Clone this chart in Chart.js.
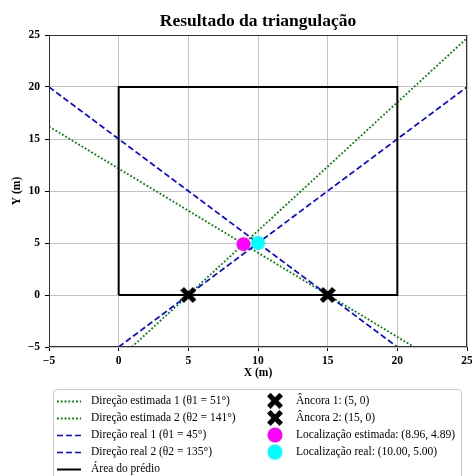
<!DOCTYPE html>
<html><head><meta charset="utf-8">
<script src="https://cdn.jsdelivr.net/npm/chart.js@4"></script>
<style>html,body{margin:0;padding:0;background:#fff}#wrap{width:472px;height:476px;position:relative}</style>
</head><body><div id="wrap"><canvas id="c" width="472" height="476"></canvas></div>
<script>
// ---- data ----
const xTicks = [-5, 0, 5, 10, 15, 20, 25];
const yTicks = [-5, 0, 5, 10, 15, 20, 25];
const est1X = [0.95, 25],  est1Y = [-5, 24.7];
const est2X = [-5, 21.2],  est2Y = [16.2, -5];
const real1X = [0, 25],    real1Y = [-5, 20];
const real2X = [-5, 20],   real2Y = [20, -5];
const buildingX = [0, 20, 20, 0, 0];
const buildingY = [0, 0, 20, 20, 0];
const anchor1 = [5, 0];
const anchor2 = [15, 0];
const estLoc = [8.96, 4.89];
const realLoc = [10.00, 5.00];
const seriesLabels = [
  'Direção estimada 1 (θ1 = 51°)',
  'Direção estimada 2 (θ2 = 141°)',
  'Direção real 1 (θ1 = 45°)',
  'Direção real 2 (θ2 = 135°)',
  'Área do prédio',
  'Âncora 1: (5, 0)',
  'Âncora 2: (15, 0)',
  'Localização estimada: (8.96, 4.89)',
  'Localização real: (10.00, 5.00)'
];

function pts(xs, ys) { return xs.map((x, i) => ({x: x, y: ys[i]})); }

function xMarker(size) {
  const c = document.createElement('canvas');
  c.width = size; c.height = size;
  const g = c.getContext('2d');
  g.strokeStyle = '#000'; g.lineWidth = 5; g.lineCap = 'butt';
  const a = 1.8;
  g.beginPath(); g.moveTo(a, a); g.lineTo(size - a, size - a);
  g.moveTo(size - a, a); g.lineTo(a, size - a); g.stroke();
  return c;
}
const xImg = xMarker(16);

const SERIF = '"Liberation Serif", "DejaVu Serif", serif';
const fmt = v => (v < 0 ? '\u2212' + Math.abs(v) : String(v));

const datasets = [
  {label: seriesLabels[0], data: pts(est1X, est1Y), showLine: true, borderColor: '#008000', borderWidth: 1.8, borderDash: [1.8, 2.0], pointRadius: 0, order: 6},
  {label: seriesLabels[1], data: pts(est2X, est2Y), showLine: true, borderColor: '#008000', borderWidth: 1.8, borderDash: [1.8, 2.0], pointRadius: 0, order: 5},
  {label: seriesLabels[2], data: pts(real1X, real1Y), showLine: true, borderColor: '#0000ff', borderWidth: 1.7, borderDash: [6, 3], pointRadius: 0, order: 4},
  {label: seriesLabels[3], data: pts(real2X, real2Y), showLine: true, borderColor: '#0000ff', borderWidth: 1.7, borderDash: [6, 3], pointRadius: 0, order: 3},
  {label: seriesLabels[4], data: pts(buildingX, buildingY), showLine: true, borderColor: '#000000', borderWidth: 2, pointRadius: 0, order: 2},
  {label: seriesLabels[5], data: [{x: anchor1[0], y: anchor1[1]}], pointStyle: xImg, pointRadius: 8, order: 1},
  {label: seriesLabels[6], data: [{x: anchor2[0], y: anchor2[1]}], pointStyle: xImg, pointRadius: 8, order: 1},
  {label: seriesLabels[7], data: [{x: estLoc[0], y: estLoc[1]}], pointStyle: 'circle', pointRadius: 7, backgroundColor: '#ff00ff', borderColor: '#ff00ff', borderWidth: 0, order: 0.5},
  {label: seriesLabels[8], data: [{x: realLoc[0], y: realLoc[1]}], pointStyle: 'circle', pointRadius: 7, backgroundColor: '#00ffff', borderColor: '#00ffff', borderWidth: 0, order: 0}
];

const framePlugin = {
  id: 'frame',
  afterDatasetsDraw(chart) {
    const {ctx, chartArea: a} = chart;
    ctx.save();
    ctx.strokeStyle = '#333'; ctx.lineWidth = 1;
    ctx.strokeRect(Math.round(a.left) + 0.5, Math.round(a.top) + 0.5, Math.round(a.right - a.left) - 1, Math.round(a.bottom - a.top) - 1);
    ctx.restore();
  }
};

const legendPlugin = {
  id: 'customLegend',
  afterDraw(chart) {
    const ctx = chart.ctx;
    const ds = chart.data.datasets;
    ctx.save();
    ctx.beginPath();
    ctx.roundRect(53.5, 389.5, 408, 130, 3);
    ctx.fillStyle = 'rgba(255,255,255,0.8)'; ctx.fill();
    ctx.strokeStyle = '#cccccc'; ctx.lineWidth = 1; ctx.stroke();
    ctx.font = '11.5px ' + SERIF; ctx.textBaseline = 'middle'; ctx.fillStyle = '#000';
    const rowH = 17.1, y0 = 400.8;
    for (let i = 0; i < 5; i++) {
      const d = ds[i], y = y0 + i * rowH;
      ctx.save();
      ctx.strokeStyle = d.borderColor; ctx.lineWidth = d.borderWidth;
      ctx.setLineDash(d.borderDash || []);
      ctx.beginPath(); ctx.moveTo(57, Math.round(y) + 0.5); ctx.lineTo(81, Math.round(y) + 0.5); ctx.stroke();
      ctx.restore();
      ctx.fillStyle = '#000';
      ctx.fillText(d.label, 91, y);
    }
    for (let i = 5; i < 9; i++) {
      const d = ds[i], y = y0 + (i - 5) * rowH;
      if (d.pointStyle === 'circle') {
        ctx.beginPath(); ctx.arc(275, y, 7.5, 0, Math.PI * 2);
        ctx.fillStyle = d.backgroundColor; ctx.fill();
      } else {
        ctx.drawImage(d.pointStyle, 275 - 8, y - 8);
      }
      ctx.fillStyle = '#000';
      ctx.fillText(d.label, 296, y);
    }
    ctx.restore();
  }
};

new Chart(document.getElementById('c'), {
  type: 'scatter',
  data: {datasets: datasets},
  options: {
    responsive: false,
    animation: false,
    devicePixelRatio: 1,
    layout: {autoPadding: false, padding: {top: 0, left: 0, right: 5, bottom: 96}},
    plugins: {
      legend: {display: false},
      tooltip: {enabled: false},
      title: {
        display: true, text: 'Resultado da triangulação', fullSize: false,
        color: '#000', font: {family: SERIF, size: 17.5, weight: 'bold', lineHeight: 1.2},
        padding: {top: 11, bottom: 3}
      }
    },
    scales: {
      x: {
        type: 'linear', min: -5, max: 25,
        afterBuildTicks: s => { s.ticks = xTicks.map(v => ({value: v})); },
        afterFit: s => { s.height = 33; s.paddingLeft = 0; s.paddingRight = 0; },
        ticks: {callback: v => fmt(v), color: '#000', padding: 3, maxRotation: 0, autoSkip: false,
                font: {family: SERIF, size: 11.5, weight: 'bold'}},
        grid: {color: '#c4c4c4', lineWidth: 1, drawTicks: true, tickLength: 4, tickColor: '#000'},
        border: {display: false},
        title: {display: true, text: 'X (m)', color: '#000', padding: {top: 0, bottom: 0},
                font: {family: SERIF, size: 11.5, weight: 'bold', lineHeight: 1.2}}
      },
      y: {
        type: 'linear', min: -5, max: 25,
        afterBuildTicks: s => { s.ticks = yTicks.map(v => ({value: v})); },
        afterFit: s => { s.width = 49; s.paddingTop = 0; s.paddingBottom = 0; },
        ticks: {callback: v => fmt(v), color: '#000', padding: 5, autoSkip: false,
                font: {family: SERIF, size: 11.5, weight: 'bold'}},
        grid: {color: '#c4c4c4', lineWidth: 1, drawTicks: true, tickLength: 4, tickColor: '#000'},
        border: {display: false},
        title: {display: true, text: 'Y (m)', color: '#000', padding: {top: 10.5, bottom: 0},
                font: {family: SERIF, size: 11.5, weight: 'bold', lineHeight: 1.2}}
      }
    }
  },
  plugins: [framePlugin, legendPlugin]
});
</script>
</body></html>
